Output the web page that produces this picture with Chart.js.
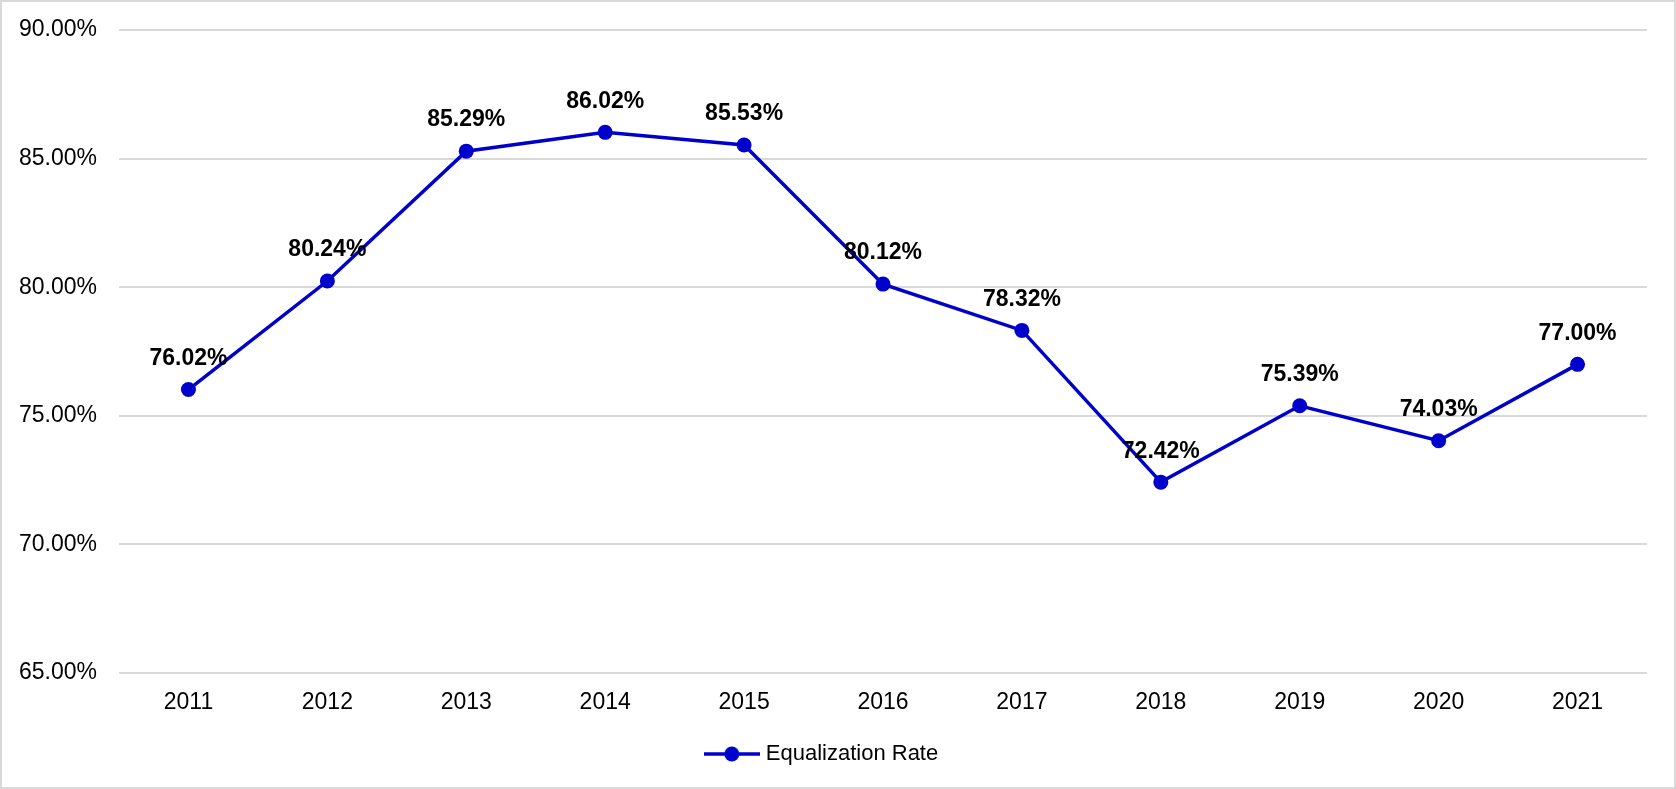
<!DOCTYPE html>
<html>
<head>
<meta charset="utf-8">
<script src="https://cdn.jsdelivr.net/npm/chart.js@4/dist/chart.umd.min.js"></script>
<style>
  html, body { margin: 0; padding: 0; background: #fff; }
  #wrap { width: 1676px; height: 789px; position: relative; }
</style>
</head>
<body>
<div id="wrap"><canvas id="chart" width="1676" height="789"></canvas></div>
<script>
const years = ['2011', '2012', '2013', '2014', '2015', '2016', '2017', '2018', '2019', '2020', '2021'];
const equalizationRate = [76.02, 80.24, 85.29, 86.02, 85.53, 80.12, 78.32, 72.42, 75.39, 74.03, 77.00];
const seriesName = 'Equalization Rate';
const yMin = 65, yMax = 90, yStep = 5;

const LINE_COLOR = '#0000CC';
const GRID_COLOR = '#D9D9D9';
const TEXT_COLOR = '#000000';
const FONT = "'Liberation Sans', Arial, sans-serif";

// Legend swatch: a short line with a dot in the middle
function makeLegendSwatch() {
  const c = document.createElement('canvas');
  c.width = 56; c.height = 16;
  const g = c.getContext('2d');
  g.strokeStyle = LINE_COLOR;
  g.lineWidth = 3.5;
  g.beginPath(); g.moveTo(0, 8); g.lineTo(56, 8); g.stroke();
  g.fillStyle = LINE_COLOR;
  g.beginPath(); g.arc(28, 8, 7.5, 0, Math.PI * 2); g.fill();
  return c;
}

// White background and a thin frame around the whole chart
const framePlugin = {
  id: 'frame',
  beforeDraw(chart) {
    const ctx = chart.ctx;
    ctx.save();
    ctx.fillStyle = '#fff';
    ctx.fillRect(0, 0, chart.width, chart.height);
    ctx.strokeStyle = GRID_COLOR;
    ctx.lineWidth = 2;
    ctx.strokeRect(1, 1, chart.width - 2, chart.height - 2);
    ctx.restore();
  }
};

// Value labels above each point
const valueLabelPlugin = {
  id: 'valueLabels',
  afterDatasetsDraw(chart) {
    const ctx = chart.ctx;
    const meta = chart.getDatasetMeta(0);
    const data = chart.data.datasets[0].data;
    ctx.save();
    ctx.font = "bold 23px " + FONT;
    ctx.fillStyle = TEXT_COLOR;
    ctx.textAlign = 'center';
    ctx.textBaseline = 'middle';
    meta.data.forEach((pt, i) => {
      ctx.fillText(data[i].toFixed(2) + '%', pt.x, pt.y - 31);
    });
    ctx.restore();
  }
};

new Chart(document.getElementById('chart'), {
  type: 'line',
  data: {
    labels: years,
    datasets: [{
      label: seriesName,
      data: equalizationRate,
      borderColor: LINE_COLOR,
      backgroundColor: LINE_COLOR,
      borderWidth: 3.5,
      pointRadius: 7.5,
      pointHoverRadius: 7.5,
      pointBackgroundColor: LINE_COLOR,
      pointBorderWidth: 0,
      tension: 0,
      fill: false
    }]
  },
  options: {
    responsive: false,
    animation: false,
    events: [],
    layout: { padding: { top: 30, left: 0, right: 29, bottom: 14 } },
    plugins: {
      tooltip: { enabled: false },
      legend: {
        position: 'bottom',
        labels: {
          usePointStyle: true,
          pointStyle: makeLegendSwatch(),
          pointStyleWidth: 46,
          color: TEXT_COLOR,
          font: { family: FONT, size: 22 },
          padding: 10
        }
      }
    },
    scales: {
      x: {
        offset: true,
        grid: { display: false, drawTicks: false, offset: true },
        border: { display: false },
        ticks: { color: TEXT_COLOR, font: { family: FONT, size: 23 }, padding: 16, maxRotation: 0 },
        afterFit(scale) { scale.height = 60; }
      },
      y: {
        min: yMin,
        max: yMax,
        grid: { color: GRID_COLOR, lineWidth: 2, drawTicks: false },
        border: { display: false },
        ticks: {
          stepSize: yStep,
          color: TEXT_COLOR,
          font: { family: FONT, size: 23 },
          padding: 22,
          callback: v => v.toFixed(2) + '%'
        },
        afterFit(scale) {
          scale.width = 119;
          scale.paddingTop = 0;
          scale.paddingBottom = 0;
        }
      }
    }
  },
  plugins: [framePlugin, valueLabelPlugin]
});
</script>
</body>
</html>
